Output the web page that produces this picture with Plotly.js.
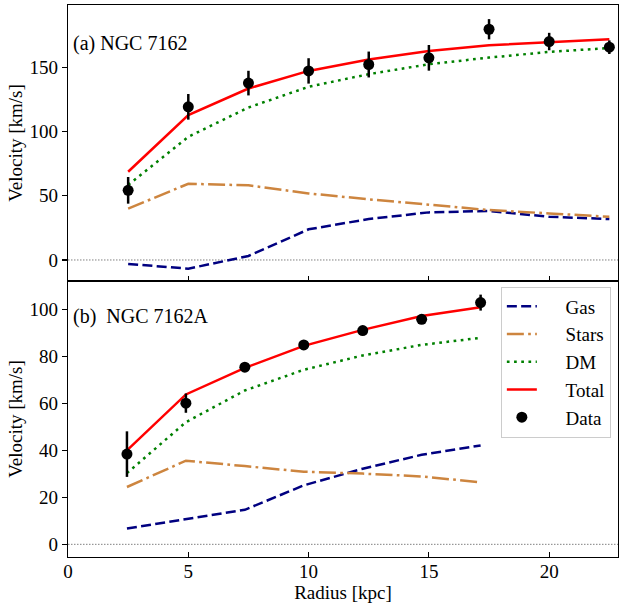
<!DOCTYPE html>
<html>
<head>
<meta charset="utf-8">
<script src="https://cdn.plot.ly/plotly-3.0.1.min.js"></script>
<style>html,body{margin:0;padding:0;background:#fff;}#chart{width:619px;height:606px;}</style>
</head>
<body>
<div id="chart"></div>
<script>
// Panel (a) NGC 7162
const radiusA = [2.5, 5.0, 7.5, 10.0, 12.5, 15.0, 17.5, 20.0, 22.5];
const gasA    = [-3.1, -6.8, 3.1, 23.9, 31.9, 37.1, 38.2, 33.7, 31.9];
const starsA  = [40.0, 59.4, 58.2, 51.9, 47.3, 43.1, 38.9, 36.3, 33.7];
const dmA     = [58.5, 96.0, 118.9, 135.0, 144.9, 152.6, 157.8, 162.2, 165.3];
const totalA  = [68.8, 112.9, 133.7, 147.4, 156.3, 163.0, 167.4, 169.8, 172.1];
const dataA   = [54.3, 119.4, 137.9, 147.4, 152.4, 157.6, 179.9, 170.3, 165.9];
const errA    = [10.4, 10.0, 9.6, 9.9, 10.1, 10.0, 7.9, 6.8, 5.3];

// Panel (b) NGC 7162A
const radiusB = [2.45, 4.9, 7.35, 9.8, 12.25, 14.7, 17.15];
const gasB    = [6.7, 10.6, 14.7, 25.1, 32.2, 38.1, 42.1];
const starsB  = [24.4, 35.6, 33.3, 30.9, 30.1, 28.9, 26.4];
const dmB     = [30.3, 52.0, 65.5, 74.3, 80.4, 84.9, 87.9];
const totalB  = [40.0, 63.8, 75.1, 84.5, 91.3, 97.2, 100.9];
const dataB   = [38.4, 60.1, 75.4, 84.9, 91.0, 95.8, 102.9];
const errB    = [9.7, 4.1, 1.5, 1.0, 1.0, 1.5, 3.4];

const seriesNames = ['Gas', 'Stars', 'DM', 'Total', 'Data'];
const panelLabels = ['(a) NGC 7162', '(b)\u00a0 NGC 7162A'];

const FONT = 'Liberation Serif';
const styles = {
  Gas:   {color: '#000080', width: 2.5, dash: '10px,4.3px'},
  Stars: {color: '#cd853f', width: 2.5, dash: '17px,4.3px,2.7px,4.3px'},
  DM:    {color: '#008000', width: 2.5, dash: '2.7px,4.5px'},
  Total: {color: '#ff0000', width: 2.5, dash: 'solid'}
};
const legendPad = '\u2003\u00a0';

function panelTraces(r, gas, stars, dm, total, data, err, xa, ya, legend) {
  const vals = [gas, stars, dm, total];
  const out = [];
  seriesNames.slice(0, 4).forEach((n, i) => {
    out.push({x: r, y: vals[i], type: 'scatter', mode: 'lines', name: legendPad + n,
      line: styles[n], xaxis: xa, yaxis: ya, showlegend: legend});
  });
  out.push({x: r, y: data, type: 'scatter', mode: 'markers', name: legendPad + seriesNames[4],
    marker: {color: 'black', size: 11},
    error_y: {type: 'data', array: err, visible: true, color: 'black', thickness: 2.5, width: 0},
    xaxis: xa, yaxis: ya, showlegend: legend});
  return out;
}

const traces = [].concat(
  panelTraces(radiusA, gasA, starsA, dmA, totalA, dataA, errA, 'x2', 'y2', false),
  panelTraces(radiusB, gasB, starsB, dmB, totalB, dataB, errB, 'x', 'y', true)
);

const axisCommon = {
  showgrid: false, zeroline: false, showline: true, mirror: true,
  linecolor: 'black', linewidth: 1.2,
  tickfont: {family: FONT, size: 19, color: 'black'},
  tickcolor: 'black', tickwidth: 1.2, ticklen: 5
};

const layout = {
  width: 619, height: 606,
  margin: {l: 68, r: 1, t: 5, b: 49},
  paper_bgcolor: 'white', plot_bgcolor: 'white',
  font: {family: FONT, size: 19, color: 'black'},
  xaxis: Object.assign({}, axisCommon, {
    domain: [0, 1], anchor: 'y', range: [0, 22.86],
    tickmode: 'linear', tick0: 0, dtick: 5, ticks: 'inside', ticklabelstandoff: -3,
    title: {text: 'Radius [kpc]', font: {family: FONT, size: 19, color: 'black'}, standoff: 2}
  }),
  yaxis: Object.assign({}, axisCommon, {
    domain: [0, 0.5], anchor: 'x', range: [-5.4, 112.1],
    tickmode: 'linear', tick0: 0, dtick: 20, ticks: 'outside',
    title: {text: 'Velocity [km/s]', font: {family: FONT, size: 19, color: 'black'}, standoff: 1}
  }),
  xaxis2: Object.assign({}, axisCommon, {
    domain: [0, 1], anchor: 'y2', range: [0, 22.86], matches: 'x',
    tickmode: 'linear', tick0: 0, dtick: 5, ticks: 'inside', showticklabels: false
  }),
  yaxis2: Object.assign({}, axisCommon, {
    domain: [0.5, 1], anchor: 'x2', range: [-16.4, 198.8],
    tickmode: 'linear', tick0: 0, dtick: 50, ticks: 'outside',
    title: {text: 'Velocity [km/s]', font: {family: FONT, size: 19, color: 'black'}, standoff: 1}
  }),
  shapes: [
    {type: 'line', xref: 'x domain', yref: 'y', x0: 0, x1: 1, y0: 0, y1: 0,
     line: {color: 'gray', width: 1, dash: '1.5px,1.5px'}, layer: 'below'},
    {type: 'line', xref: 'x2 domain', yref: 'y2', x0: 0, x1: 1, y0: 0, y1: 0,
     line: {color: 'gray', width: 1, dash: '1.5px,1.5px'}, layer: 'below'}
  ],
  annotations: [
    {text: panelLabels[0], xref: 'x2 domain', yref: 'y2 domain', x: 0.005, y: 0.862,
     xanchor: 'left', yanchor: 'middle', showarrow: false, font: {family: FONT, size: 20, color: 'black'}},
    {text: panelLabels[1], xref: 'x domain', yref: 'y domain', x: 0.005, y: 0.873,
     xanchor: 'left', yanchor: 'middle', showarrow: false, font: {family: FONT, size: 20, color: 'black'}}
  ],
  legend: {
    x: 0.787, y: 0.490, xanchor: 'left', yanchor: 'top',
    bgcolor: 'rgba(255,255,255,0.8)', bordercolor: '#cccccc', borderwidth: 1,
    font: {family: FONT, size: 19, color: 'black'}, traceorder: 'normal'
  }
};

Plotly.newPlot('chart', traces, layout, {staticPlot: true, displayModeBar: false});
</script>
</body>
</html>
